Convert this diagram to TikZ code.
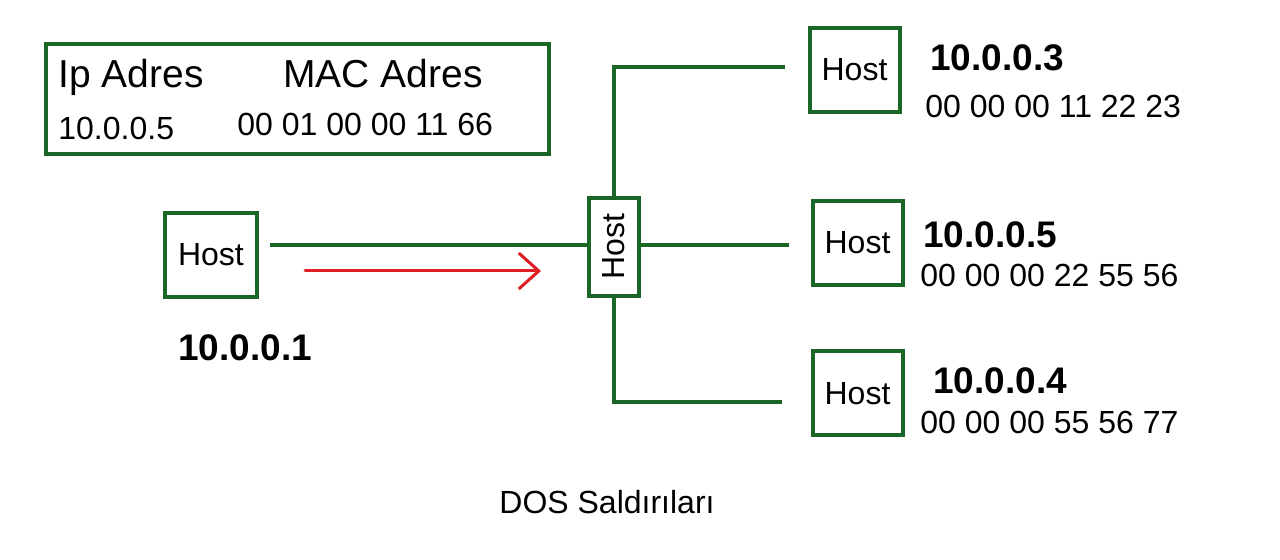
\documentclass[tikz,border=0pt]{standalone}
\usepackage{fontspec}
\setmainfont{Liberation Sans}
\usetikzlibrary{arrows.meta}
\definecolor{netgreen}{RGB}{26,102,38}
\definecolor{atkred}{RGB}{222,30,36}

\begin{document}
\begin{tikzpicture}[x=0.5pt,y=-0.5pt]
\tikzstyle{every node}+=[inner sep=0pt]
\tikzstyle{host}=[draw=netgreen,line width=2pt,minimum width=45pt,minimum height=42pt,font=\fontsize{16}{18}\selectfont]
\tikzstyle{wire}=[draw=netgreen,line width=1.6pt]
\tikzstyle{txt}=[anchor=base west,font=\fontsize{16}{18}\selectfont]
\tikzstyle{head}=[anchor=base west,font=\fontsize{19.5}{22}\selectfont]
\tikzstyle{ip}=[anchor=base west,font=\fontsize{18.5}{21}\selectfont\bfseries]
\useasboundingbox (0,0) rectangle (1280,560);
% address table
\node [draw=netgreen,line width=2pt,minimum width=251.5pt,minimum height=55pt] (table) at (297.5,99) {};
\node [head] (iphead) at (58,88) {Ip Adres};
\node [head] (machead) at (283,88) {MAC Adres};
\node [txt] (ipval) at (58,140) {10.0.0.5};
\node [txt] (macval) at (237,136) {00 01 00 00 11 66};
% hosts (sw is turned: its east is on top, its north on the left)
\node [host,minimum width=46pt] (h1) at (211,255) {Host};
\node [host,minimum width=49pt,minimum height=25pt,rotate=90] (sw) at (614,247) {Host};
\node [host] (h3) at (854.5,70) {Host};
\node [host] (h2) at (857.5,243) {Host};
\node [host] (h4) at (857.5,393.5) {Host};
% addresses
\node [ip] (ip1) at (178,361) {10.0.0.1};
\node [ip] (ip3) at (930,71) {10.0.0.3};
\node [txt] (mac3) at (925,118) {00 00 00 11 22 23};
\node [ip] (ip2) at (923,248) {10.0.0.5};
\node [txt] (mac2) at (920,287) {00 00 00 22 55 56};
\node [ip] (ip4) at (933,394) {10.0.0.4};
\node [txt] (mac4) at (920,434) {00 00 00 55 56 77};
\node [anchor=base,font=\fontsize{16}{18}\selectfont] (title) at (607,514) {DOS Saldırıları};
% links
\draw [wire,shorten <=5.5pt] ([yshift=5pt]h1.east) -- ([yshift=5pt]h1.east -| sw.north);
\draw [wire,shorten >=11.5pt] (sw.east) |- ([yshift=1.5pt]h3.west);
\draw [wire,shorten >=11pt] ([yshift=1pt]sw.south) -- ([yshift=1pt]sw.south -| h2.west);
\draw [wire,shorten >=14.5pt] (sw.west) |- ([yshift=-4.3pt]h4.west);
% attack
\coordinate (atkfrom) at (305,271);
\coordinate (atkto) at (541,271);
\draw [atkred,line width=1.5pt,line cap=round,-{Straight Barb[length=10pt,width=18pt]}] (atkfrom) -- (atkto);
\end{tikzpicture}
\end{document}
